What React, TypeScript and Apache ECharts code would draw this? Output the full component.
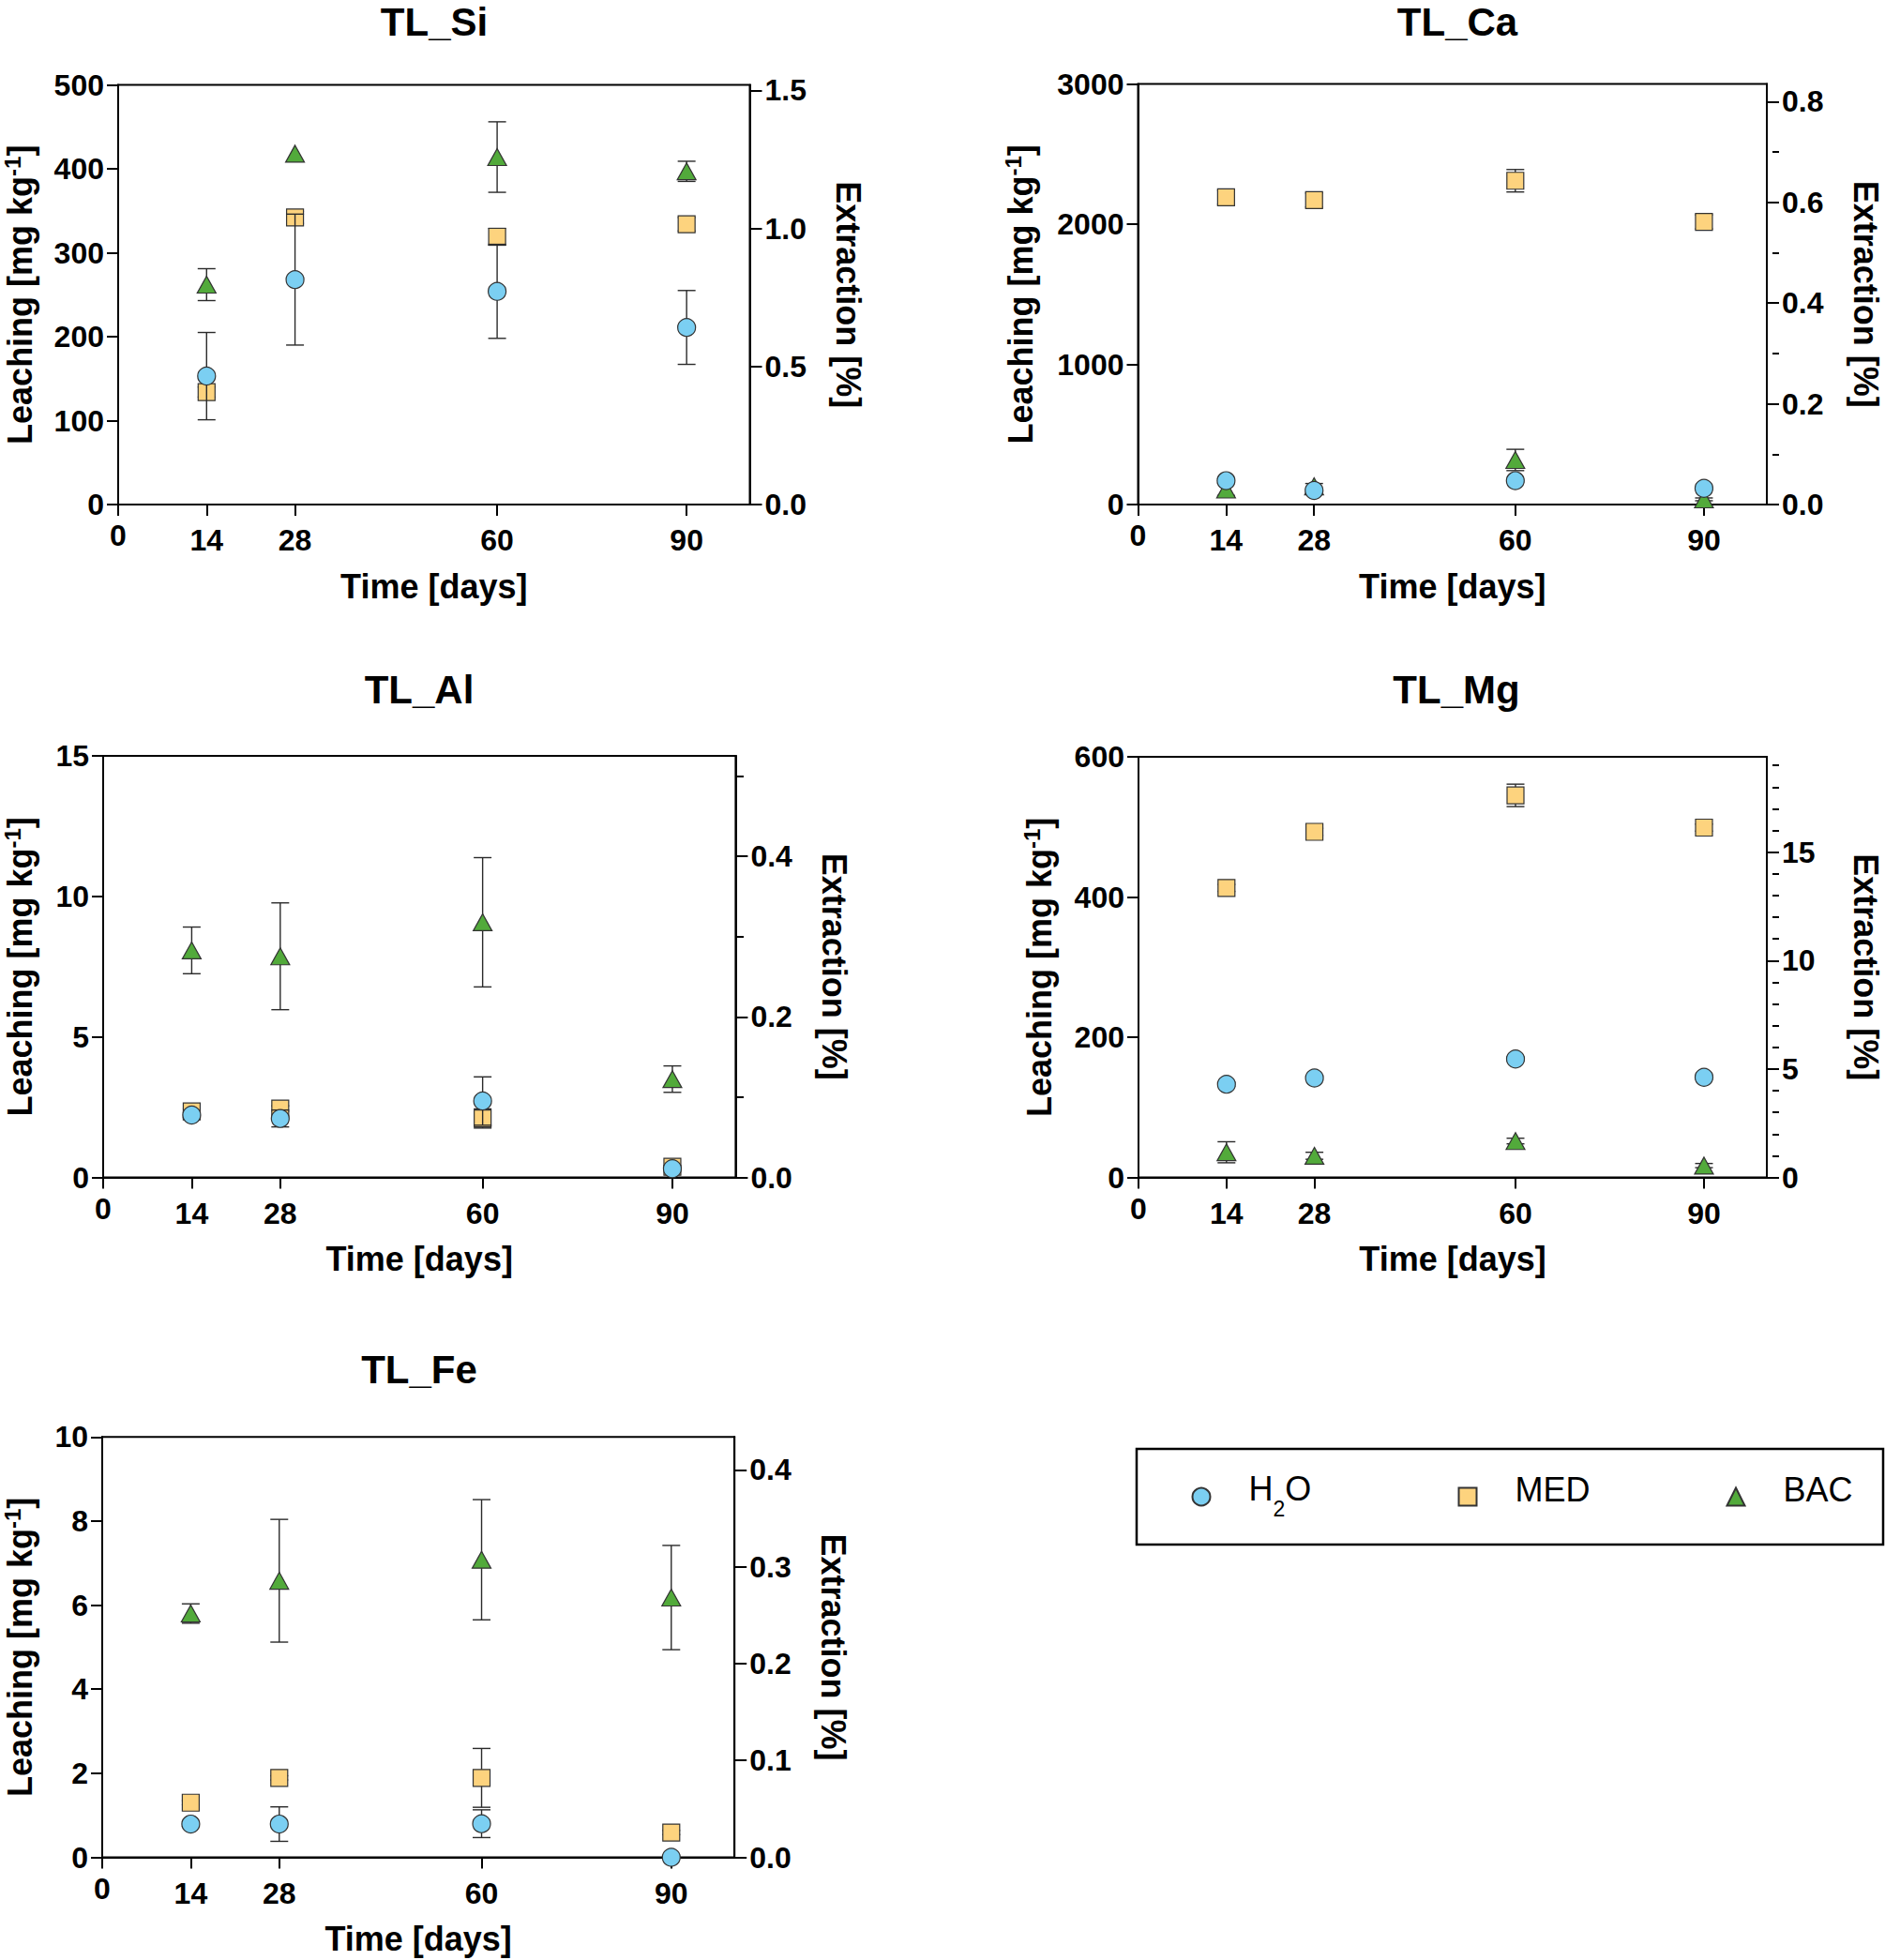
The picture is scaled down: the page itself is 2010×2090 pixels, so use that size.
import React, { useEffect, useRef } from 'react';
import * as echarts from 'echarts';

// ---------- data ----------
const DAYS = [14, 28, 60, 90];
const X_TICKS = [0, 14, 28, 60, 90];
const X_MAX = 100;
const GROUPS = ['H2O', 'MED', 'BAC'];

// TL_Si
const SI_H2O = [153, 268, 254, 211];
const SI_H2O_SD = [52, 78, 56, 44];
const SI_MED = [134, 342, 319, 334];
const SI_MED_SD = [6, 7, 10, 8];
const SI_BAC = [262, 418, 414, 397];
const SI_BAC_SD = [19, 0, 42, 12];
const SI_LEFT_TICKS = [0, 100, 200, 300, 400, 500];
const SI_RIGHT_TICKS = [0, 0.5, 1.0, 1.5];
const SI_RIGHT_MINOR: number[] = [];
const SI_LEFT_MAX = 500;
const SI_RIGHT_MAX = 1.52;

// TL_Ca
const CA_H2O = [170, 100, 170, 115];
const CA_H2O_SD = [15, 10, 10, 10];
const CA_MED = [2192, 2172, 2310, 2017];
const CA_MED_SD = [50, 50, 80, 50];
const CA_BAC = [107, 130, 318, 37];
const CA_BAC_SD = [42, 20, 76, 10];
const CA_LEFT_TICKS = [0, 1000, 2000, 3000];
const CA_RIGHT_TICKS = [0, 0.2, 0.4, 0.6, 0.8];
const CA_RIGHT_MINOR = [0.1, 0.3, 0.5, 0.7];
const CA_LEFT_MAX = 3000;
const CA_RIGHT_MAX = 0.835;

// TL_Al
const AL_H2O = [2.22, 2.1, 2.72, 0.31];
const AL_H2O_SD = [0.1, 0.3, 0.86, 0.05];
const AL_MED = [2.35, 2.45, 2.1, 0.38];
const AL_MED_SD = [0.1, 0.1, 0.34, 0.05];
const AL_BAC = [8.08, 7.87, 9.08, 3.5];
const AL_BAC_SD = [0.83, 1.9, 2.3, 0.47];
const AL_LEFT_TICKS = [0, 5, 10, 15];
const AL_RIGHT_TICKS = [0, 0.2, 0.4];
const AL_RIGHT_MINOR = [0.1, 0.3, 0.5];
const AL_LEFT_MAX = 15;
const AL_RIGHT_MAX = 0.525;

// TL_Mg
const MG_H2O = [133, 142, 169, 143];
const MG_H2O_SD = [3, 3, 3, 3];
const MG_MED = [413, 493, 545, 499];
const MG_MED_SD = [5, 5, 16, 5];
const MG_BAC = [36, 31, 52, 17];
const MG_BAC_SD = [15, 5, 4, 3];
const MG_LEFT_TICKS = [0, 200, 400, 600];
const MG_RIGHT_TICKS = [0, 5, 10, 15];
const MG_RIGHT_MINOR = [1, 2, 3, 4, 6, 7, 8, 9, 11, 12, 13, 14, 16, 17, 18, 19];
const MG_LEFT_MAX = 600;
const MG_RIGHT_MAX = 19.4;

// TL_Fe
const FE_H2O = [0.79, 0.79, 0.8, 0.0];
const FE_H2O_SD = [0.05, 0.41, 0.33, 0];
const FE_MED = [1.3, 1.89, 1.89, 0.59];
const FE_MED_SD = [0.05, 0.05, 0.7, 0.05];
const FE_BAC = [5.8, 6.58, 7.08, 6.18];
const FE_BAC_SD = [0.23, 1.46, 1.43, 1.24];
const FE_LEFT_TICKS = [0, 2, 4, 6, 8, 10];
const FE_RIGHT_TICKS = [0, 0.1, 0.2, 0.3, 0.4];
const FE_RIGHT_MINOR: number[] = [];
const FE_LEFT_MAX = 10;
const FE_RIGHT_MAX = 0.434;

const PANELS = [
  { title: 'TL_Si', vals: [SI_H2O, SI_MED, SI_BAC], sds: [SI_H2O_SD, SI_MED_SD, SI_BAC_SD], lt: SI_LEFT_TICKS, lmax: SI_LEFT_MAX, rt: SI_RIGHT_TICKS, rminor: SI_RIGHT_MINOR, rmax: SI_RIGHT_MAX, rdec: 1 },
  { title: 'TL_Ca', vals: [CA_H2O, CA_MED, CA_BAC], sds: [CA_H2O_SD, CA_MED_SD, CA_BAC_SD], lt: CA_LEFT_TICKS, lmax: CA_LEFT_MAX, rt: CA_RIGHT_TICKS, rminor: CA_RIGHT_MINOR, rmax: CA_RIGHT_MAX, rdec: 1 },
  { title: 'TL_Al', vals: [AL_H2O, AL_MED, AL_BAC], sds: [AL_H2O_SD, AL_MED_SD, AL_BAC_SD], lt: AL_LEFT_TICKS, lmax: AL_LEFT_MAX, rt: AL_RIGHT_TICKS, rminor: AL_RIGHT_MINOR, rmax: AL_RIGHT_MAX, rdec: 1 },
  { title: 'TL_Mg', vals: [MG_H2O, MG_MED, MG_BAC], sds: [MG_H2O_SD, MG_MED_SD, MG_BAC_SD], lt: MG_LEFT_TICKS, lmax: MG_LEFT_MAX, rt: MG_RIGHT_TICKS, rminor: MG_RIGHT_MINOR, rmax: MG_RIGHT_MAX, rdec: 0 },
  { title: 'TL_Fe', vals: [FE_H2O, FE_MED, FE_BAC], sds: [FE_H2O_SD, FE_MED_SD, FE_BAC_SD], lt: FE_LEFT_TICKS, lmax: FE_LEFT_MAX, rt: FE_RIGHT_TICKS, rminor: FE_RIGHT_MINOR, rmax: FE_RIGHT_MAX, rdec: 1 },
];

// ---------- layout / style ----------
const LAYOUT = [
  { left: 123.5, top: 90.5, width: 676, height: 447.5, titleX: 463, titleTop: 3, leftGap: 85 },
  { left: 1213.5, top: 89.6, width: 676.5, height: 448.4, titleX: 1554, titleTop: 3, leftGap: 105 },
  { left: 108.4, top: 806, width: 676, height: 449.6, titleX: 447, titleTop: 715, leftGap: 69 },
  { left: 1214, top: 807, width: 676, height: 448.6, titleX: 1553, titleTop: 715, leftGap: 86 },
  { left: 107.8, top: 1532.3, width: 675.4, height: 448.2, titleX: 447, titleTop: 1440.5, leftGap: 68 },
];
const FONT = '"Liberation Sans", Arial, Helvetica, sans-serif';
const COLORS: Record<string, string> = { H2O: '#7BCFF2', MED: '#FDD37E', BAC: '#52AA3B' };
const SYMBOLS: Record<string, string> = { H2O: 'circle', MED: 'rect', BAC: 'triangle' };
const SIZES: Record<string, any> = { H2O: 19, MED: 18, BAC: [20, 18] };
const Z: Record<string, number> = { BAC: 2, MED: 4, H2O: 6 };

const tickLabel = { fontFamily: FONT, fontWeight: 'bold' as const, fontSize: 32, color: '#000' };
const nameStyle = { fontFamily: FONT, fontWeight: 'bold' as const, fontSize: 36, color: '#000', lineHeight: 40 };
const axLine = { show: true, onZero: false, lineStyle: { color: '#000', width: 2 } };
const tickLine = { color: '#000', width: 2 };

function buildOption() {
  const grid: any[] = [];
  const xAxis: any[] = [];
  const yAxis: any[] = [];
  const series: any[] = [];
  const title: any[] = [];

  PANELS.forEach((p, i) => {
    const L = LAYOUT[i];
    grid.push({ left: L.left, top: L.top, width: L.width, height: L.height, show: true, borderColor: '#000', borderWidth: 2, backgroundColor: 'transparent' });
    title.push({ text: p.title, left: L.titleX, top: L.titleTop, textAlign: 'center', padding: 0, textStyle: { fontFamily: FONT, fontWeight: 'bold', fontSize: 42, color: '#000', lineHeight: 40 } });
    xAxis.push({
      type: 'value', gridIndex: i, min: 0, max: X_MAX,
      name: 'Time [days]', nameLocation: 'middle', nameGap: 67, nameTextStyle: nameStyle,
      axisLine: axLine,
      axisTick: { show: true, customValues: X_TICKS, length: 12, lineStyle: tickLine },
      axisLabel: {
        customValues: X_TICKS, margin: 16, ...tickLabel,
        formatter: (v: number) => (v === 0 ? '{o|0}' : '{n|' + v + '}'),
        rich: { n: { ...tickLabel, lineHeight: 44 }, o: { ...tickLabel, lineHeight: 34 } },
      },
      splitLine: { show: false },
    });
    const yl = yAxis.length;
    yAxis.push({
      type: 'value', gridIndex: i, position: 'left', min: 0, max: p.lmax,
      name: '{a|Leaching [mg kg}{s|-1}{a|]}', nameLocation: 'middle', nameRotate: 90, nameGap: L.leftGap,
      nameTextStyle: { ...nameStyle, rich: { a: nameStyle, s: { ...nameStyle, fontSize: 24, lineHeight: 24, verticalAlign: 'top' } } },
      axisLine: axLine,
      axisTick: { show: true, customValues: p.lt, length: 12, lineStyle: tickLine },
      axisLabel: { customValues: p.lt, margin: 15, ...tickLabel, formatter: (v: number) => String(v) },
      splitLine: { show: false },
    });
    yAxis.push({
      type: 'value', gridIndex: i, position: 'right', min: 0, max: p.rmax,
      name: 'Extraction [%]', nameLocation: 'middle', nameRotate: -90, nameGap: 85, nameTextStyle: nameStyle,
      axisLine: axLine,
      axisTick: { show: true, customValues: p.rt, length: 13, lineStyle: tickLine },
      axisLabel: { customValues: p.rt, margin: 16, ...tickLabel, formatter: (v: number) => v.toFixed(p.rdec) },
      splitLine: { show: false },
    });
    if (p.rminor.length) {
      // third axis of the grid is laid out on the left; shift it onto the right frame and point ticks outward
      yAxis.push({
        type: 'value', gridIndex: i, position: 'left', offset: -L.width, min: 0, max: p.rmax,
        axisLine: { show: false },
        axisTick: { show: true, inside: true, customValues: p.rminor, length: 7, lineStyle: tickLine },
        axisLabel: { show: false },
        splitLine: { show: false },
      });
    }
    // draw order: BAC, MED, H2O
    [2, 1, 0].forEach((g) => {
      const name = GROUPS[g];
      const vals = p.vals[g];
      const sds = p.sds[g];
      series.push({
        type: 'scatter', name, xAxisIndex: i, yAxisIndex: yl, z: Z[name] + 1,
        symbol: SYMBOLS[name], symbolSize: SIZES[name],
        itemStyle: { color: COLORS[name], borderColor: '#333', borderWidth: 1.2, opacity: 1 },
        data: DAYS.map((d, k) => [d, vals[k]]),
      });
      series.push({
        type: 'custom', name: name + ' SD', xAxisIndex: i, yAxisIndex: yl, z: Z[name], clip: false,
        encode: { x: 0, y: 1 },
        data: DAYS.map((d, k) => [d, vals[k], sds[k]]),
        renderItem: (params: any, api: any) => {
          const x = api.value(0), m = api.value(1), s = api.value(2);
          if (!s) return { type: 'group', children: [] };
          const t = api.coord([x, m + s]);
          const b = api.coord([x, m - s]);
          const hw = 9.5;
          const st = { stroke: '#2a2a2a', lineWidth: 1.4 };
          return {
            type: 'group',
            children: [
              { type: 'line', shape: { x1: t[0], y1: t[1], x2: b[0], y2: b[1] }, style: st },
              { type: 'line', shape: { x1: t[0] - hw, y1: t[1], x2: t[0] + hw, y2: t[1] }, style: st },
              { type: 'line', shape: { x1: b[0] - hw, y1: b[1], x2: b[0] + hw, y2: b[1] }, style: st },
            ],
          };
        },
        silent: true,
      });
    });
  });

  const legendCenters = [1280, 1564, 1850];
  const LEGEND_CY = 1596;
  const legend = GROUPS.map((g, k) => {
    const isH = g === 'H2O';
    const pad = isH ? [0, 0, 2, 36] : [0, 0, 12, 36];
    const boxH = isH ? 53 : 52;
    return {
      data: [g], left: legendCenters[k] - 9.5, top: LEGEND_CY - boxH / 2, padding: 0,
      itemWidth: 19, itemHeight: 19, selectedMode: false, orient: 'horizontal',
      formatter: (n: string) => (n === 'H2O' ? '{a|H}{s|2}{a|O}' : '{a|' + n + '}'),
      textStyle: {
        fontFamily: FONT, fontSize: 36, color: '#000', padding: pad,
        rich: {
          a: { fontFamily: FONT, fontSize: 36, color: '#000', lineHeight: 40, verticalAlign: 'top' },
          s: { fontFamily: FONT, fontSize: 23, color: '#000', lineHeight: 51, verticalAlign: 'bottom' },
        },
      },
    };
  });

  return {
    animation: false,
    backgroundColor: '#fff',
    title, grid, xAxis, yAxis, series, legend,
    graphic: [
      { type: 'rect', shape: { x: 1212, y: 1545, width: 796, height: 102 }, style: { fill: 'none', stroke: '#000', lineWidth: 2.5 }, silent: true },
    ],
  };
}

export default function App() {
  const ref = useRef<HTMLDivElement>(null);
  useEffect(() => {
    document.body.style.margin = '0';
    if (!ref.current) return;
    const chart = echarts.init(ref.current, null, { renderer: 'svg' });
    chart.setOption(buildOption() as any);
    return () => chart.dispose();
  }, []);
  return <div ref={ref} style={{ width: 2010, height: 2090 }} />;
}
